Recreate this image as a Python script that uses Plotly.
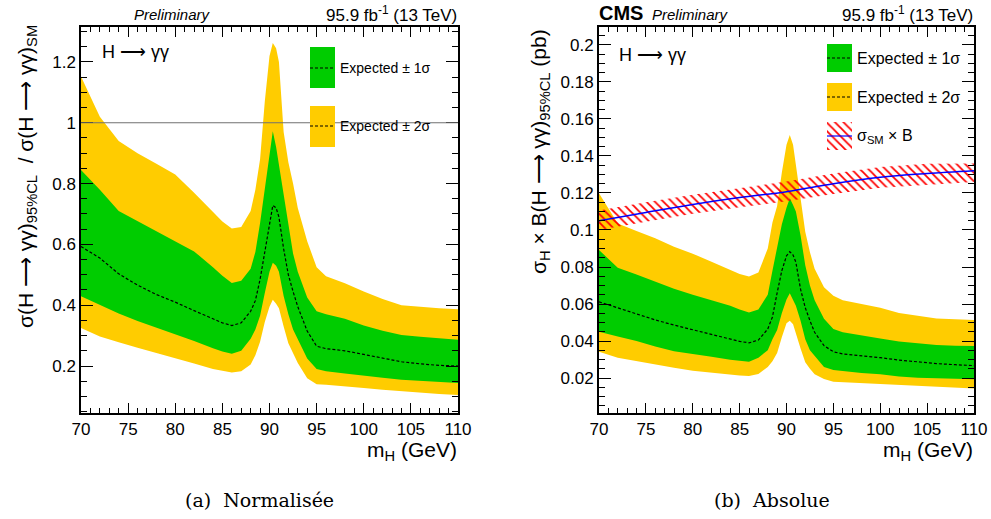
import plotly.graph_objects as go

#========================================================
# values read off the two CMS H->gg limit plots

mass = [70, 72, 74, 76, 78, 80, 82, 84, 85, 86, 87, 88, 88.5, 89, 89.5, 90, 90.35,
        90.7, 91, 91.5, 92, 92.5, 93, 94, 95, 96, 98, 100, 102, 104, 106, 108, 110]

# (a) normalised to SM
exp_norm = [0.593, 0.555, 0.503, 0.466, 0.435, 0.41, 0.382, 0.355, 0.342, 0.333, 0.342,
            0.38, 0.415, 0.485, 0.58, 0.675, 0.728, 0.72, 0.69, 0.585, 0.5, 0.445, 0.395,
            0.315, 0.265, 0.257, 0.25, 0.238, 0.225, 0.214, 0.207, 0.202, 0.2]
g_lo_norm = [0.429, 0.401, 0.373, 0.348, 0.325, 0.304, 0.282, 0.258, 0.248, 0.24, 0.25,
             0.29, 0.32, 0.365, 0.44, 0.51, 0.54, 0.53, 0.51, 0.43, 0.37, 0.32, 0.285,
             0.225, 0.19, 0.183, 0.175, 0.167, 0.161, 0.155, 0.151, 0.147, 0.144]
g_hi_norm = [0.845, 0.78, 0.71, 0.677, 0.645, 0.61, 0.577, 0.525, 0.497, 0.473, 0.48,
             0.52, 0.575, 0.67, 0.78, 0.89, 0.972, 0.92, 0.86, 0.76, 0.655, 0.57, 0.51,
             0.425, 0.38, 0.37, 0.355, 0.333, 0.316, 0.302, 0.296, 0.29, 0.286]
y_lo_norm = [0.325, 0.297, 0.278, 0.26, 0.241, 0.225, 0.208, 0.19, 0.184, 0.179, 0.183,
             0.205, 0.235, 0.28, 0.345, 0.395, 0.418, 0.405, 0.39, 0.33, 0.275, 0.24, 0.21,
             0.16, 0.14, 0.138, 0.134, 0.128, 0.122, 0.116, 0.112, 0.108, 0.105]
y_hi_norm = [1.152, 1.02, 0.94, 0.9, 0.865, 0.83, 0.77, 0.705, 0.675, 0.652, 0.657,
             0.71, 0.78, 0.88, 1.07, 1.22, 1.262, 1.245, 1.2, 0.97, 0.87, 0.8, 0.72,
             0.61, 0.525, 0.495, 0.472, 0.445, 0.42, 0.4, 0.394, 0.39, 0.387]

# (b) absolute, pb
exp_abs = [0.0612, 0.0578, 0.0545, 0.0514, 0.0486, 0.046, 0.0435, 0.041, 0.0398, 0.039,
           0.0405, 0.0465, 0.053, 0.066, 0.078, 0.086, 0.0883, 0.0865, 0.0825, 0.068,
           0.058, 0.051, 0.0447, 0.0375, 0.0342, 0.033, 0.0322, 0.031, 0.0297, 0.0287,
           0.0278, 0.0272, 0.0267]
g_lo_abs = [0.045, 0.0425, 0.04, 0.037, 0.0345, 0.033, 0.0315, 0.0299, 0.0292, 0.0288,
            0.031, 0.035, 0.041, 0.046, 0.055, 0.0625, 0.0658, 0.062, 0.059, 0.051,
            0.041, 0.035, 0.032, 0.026, 0.0243, 0.0236, 0.0227, 0.022, 0.0208, 0.0202,
            0.0198, 0.0195, 0.0193]
g_hi_abs = [0.0892, 0.0796, 0.0759, 0.072, 0.0682, 0.065, 0.0621, 0.0591, 0.057, 0.0554,
            0.057, 0.065, 0.078, 0.09, 0.103, 0.112, 0.1171, 0.1135, 0.11, 0.097,
            0.081, 0.07, 0.062, 0.052, 0.0465, 0.0447, 0.0428, 0.0413, 0.0397, 0.0387,
            0.0378, 0.0375, 0.0373]
y_lo_abs = [0.0342, 0.031, 0.0293, 0.0273, 0.0255, 0.024, 0.0229, 0.0218, 0.0213, 0.0211,
            0.0222, 0.026, 0.029, 0.0335, 0.042, 0.0496, 0.051, 0.049, 0.0445, 0.036,
            0.0285, 0.025, 0.022, 0.0195, 0.018, 0.0177, 0.0172, 0.0169, 0.0163, 0.0158,
            0.0154, 0.0149, 0.0144]
y_hi_abs = [0.1198, 0.1035, 0.0995, 0.0955, 0.091, 0.0872, 0.0828, 0.0785, 0.0762, 0.0748,
            0.077, 0.09, 0.104, 0.113, 0.131, 0.146, 0.1514, 0.146, 0.135, 0.116,
            0.099, 0.088, 0.079, 0.069, 0.0645, 0.062, 0.0598, 0.058, 0.0552, 0.0535,
            0.0522, 0.0517, 0.0514]

sm_mass = [70, 75, 80, 85, 90, 95, 100, 105, 110]
sm_xs = [0.105, 0.1095, 0.1138, 0.1175, 0.1207, 0.125, 0.1285, 0.1305, 0.132]
sm_lo = [0.1, 0.1045, 0.1088, 0.1123, 0.1155, 0.1195, 0.1228, 0.1245, 0.126]
sm_hi = [0.1105, 0.115, 0.119, 0.1228, 0.1262, 0.1305, 0.134, 0.1358, 0.136]

GREEN = '#00cc00'
YELLOW = '#ffcc00'
FONT = 'Liberation Sans'
W, H = 991, 519


def px(x):
    return x / W


def py(y):
    return 1 - y / H


def band(x, lo, hi, color, xa, ya):
    return go.Scatter(x=x + x[::-1], y=hi + lo[::-1], fill='toself', fillcolor=color,
                      mode='lines', line=dict(width=0), xaxis=xa, yaxis=ya,
                      hoverinfo='skip', showlegend=False)


def dashed(x, y, xa, ya):
    return go.Scatter(x=x, y=y, mode='lines', line=dict(color='black', width=1.2, dash='3px,2px'),
                      xaxis=xa, yaxis=ya, hoverinfo='skip', showlegend=False)


fig = go.Figure()

# left panel
fig.add_trace(band(mass, y_lo_norm, y_hi_norm, YELLOW, 'x', 'y'))
fig.add_trace(band(mass, g_lo_norm, g_hi_norm, GREEN, 'x', 'y'))
fig.add_trace(dashed(mass, exp_norm, 'x', 'y'))

# right panel
fig.add_trace(band(mass, y_lo_abs, y_hi_abs, YELLOW, 'x2', 'y2'))
fig.add_trace(band(mass, g_lo_abs, g_hi_abs, GREEN, 'x2', 'y2'))
fig.add_trace(dashed(mass, exp_abs, 'x2', 'y2'))

hatch = dict(shape='\\', fgcolor='#ff0000', fgopacity=1, bgcolor='rgba(0,0,0,0)', size=6,
             solidity=0.3, fillmode='overlay')
fig.add_trace(go.Scatter(x=sm_mass + sm_mass[::-1], y=sm_hi + sm_lo[::-1], fill='toself',
                         fillcolor='rgba(0,0,0,0)', fillpattern=hatch, mode='lines',
                         line=dict(width=0), xaxis='x2', yaxis='y2', hoverinfo='skip',
                         showlegend=False))
fig.add_trace(go.Scatter(x=sm_mass, y=sm_xs, mode='lines', line=dict(color='#0000ff', width=1.5),
                         line_shape='spline', xaxis='x2', yaxis='y2', hoverinfo='skip',
                         showlegend=False))

# hatched legend swatch on a hidden pixel axis
fig.add_trace(go.Scatter(x=[827, 852, 852, 827, 827], y=[122, 122, 150, 150, 122], fill='toself',
                         fillcolor='rgba(0,0,0,0)', fillpattern=hatch, mode='lines',
                         line=dict(width=0), xaxis='x3', yaxis='y3', hoverinfo='skip',
                         showlegend=False))

ydom = [py(413), py(27)]
axis_common = dict(ticks='inside', showline=True, linecolor='black', mirror='ticks',
                   showgrid=False, zeroline=False, tickcolor='black', automargin=False,
                   tickfont=dict(size=17, color='black', family=FONT))

xa = dict(axis_common, range=[70, 110], dtick=5, tick0=70, ticklen=10, tickwidth=1,
          minor=dict(dtick=1, ticklen=5, ticks='inside', tickcolor='black'))

fig.update_layout(
    template='none',
    width=W, height=H,
    margin=dict(l=0, r=0, t=0, b=0, autoexpand=False),
    paper_bgcolor='white', plot_bgcolor='rgba(0,0,0,0)',
    font=dict(family=FONT, color='black'),
    showlegend=False,
    xaxis=dict(xa, domain=[px(81), px(458)], anchor='y', linewidth=1.5),
    yaxis=dict(axis_common, domain=ydom, anchor='x', range=[0.0454, 1.315], dtick=0.2, tick0=0,
               ticklen=12, linewidth=1.5,
               minor=dict(dtick=0.05, ticklen=6, ticks='inside', tickcolor='black')),
    xaxis2=dict(xa, domain=[px(599), px(974)], anchor='y2', linewidth=2),
    yaxis2=dict(axis_common, domain=ydom, anchor='x2', range=[0.0011, 0.2097], dtick=0.02, tick0=0,
                ticklen=12, linewidth=2,
                minor=dict(dtick=0.005, ticklen=6, ticks='inside', tickcolor='black')),
    xaxis3=dict(domain=[0, 1], range=[0, W], visible=False, anchor='y3', fixedrange=True,
                automargin=False),
    yaxis3=dict(domain=[0, 1], range=[H, 0], visible=False, anchor='x3', fixedrange=True,
                automargin=False),
)

# SM reference line in the normalised plot
fig.add_shape(type='line', xref='x domain', yref='y', x0=0, x1=1, y0=1, y1=1,
              line=dict(color='#707070', width=1.2))

shapes = [
    # left legend
    dict(x0=310, x1=335, y0=47, y1=88, fillcolor=GREEN),
    dict(x0=310, x1=335, y0=106, y1=147, fillcolor=YELLOW),
    # right legend
    dict(x0=827, x1=852, y0=44, y1=72, fillcolor=GREEN),
    dict(x0=827, x1=852, y0=83, y1=111, fillcolor=YELLOW),
]
for s in shapes:
    fig.add_shape(type='rect', xref='paper', yref='paper', x0=px(s['x0']), x1=px(s['x1']),
                  y0=py(s['y1']), y1=py(s['y0']), fillcolor=s['fillcolor'], line=dict(width=0))

for x0, x1, y, col, dash in [(310, 335, 68, 'black', '3px,2px'), (310, 335, 126, 'black', '3px,2px'),
                             (827, 852, 58, 'black', '3px,2px'), (827, 852, 97, 'black', '3px,2px'),
                             (827, 852, 136, '#0000ff', 'solid')]:
    fig.add_shape(type='line', xref='paper', yref='paper', x0=px(x0), x1=px(x1), y0=py(y), y1=py(y),
                  line=dict(color=col, width=1.2, dash=dash))


def label(text, x, y, size, xanchor='left', angle=0, family=FONT):
    fig.add_annotation(text=text, x=px(x), y=py(y), xref='paper', yref='paper', showarrow=False,
                       xanchor=xanchor, yanchor='middle', textangle=angle,
                       font=dict(size=size, family=family, color='black'))


# headers
label('<i>Preliminary</i>', 172, 14, 15, 'center')
label('95.9 fb<sup>-1</sup> (13 TeV)', 459, 14, 17, 'right')
label('<b>CMS</b>', 597, 13, 20, 'left')
label('<i>Preliminary</i>', 650, 14, 15, 'left')
label('95.9 fb<sup>-1</sup> (13 TeV)', 975, 14, 17, 'right')

# channel
label('H ⟶ γγ', 100, 52, 18)
label('H ⟶ γγ', 617, 55, 18)

# legend text
label('Expected ± 1σ', 338, 68, 14)
label('Expected ± 2σ', 338, 126, 14)
label('Expected ± 1σ', 855, 58, 16)
label('Expected ± 2σ', 855, 97, 16)
label('σ<sub>SM</sub> × B', 855, 137, 16)

# axis titles
label('σ(H ⟶ γγ)<sub>95%CL</sub>  / σ(H ⟶ γγ)<sub>SM</sub>', 27, 177, 21, 'center', -90)
label('σ<sub>H</sub> × B(H ⟶ γγ)<sub>95%CL</sub> (pb)', 540, 152, 21, 'center', -90)
label('m<sub>H</sub> (GeV)', 459, 451, 21, 'right')
label('m<sub>H</sub> (GeV)', 975, 451, 21, 'right')

# captions
label('(a)\u00a0 Normalisée', 259, 500, 19, 'center', family='DejaVu Serif')
label('(b)\u00a0 Absolue', 772, 500, 19, 'center', family='DejaVu Serif')

# page has a default body margin; drop it so the figure sits at 0,0
fig.write_html('out.html', config={'displayModeBar': False},
               post_script="document.body.style.margin='0';")
